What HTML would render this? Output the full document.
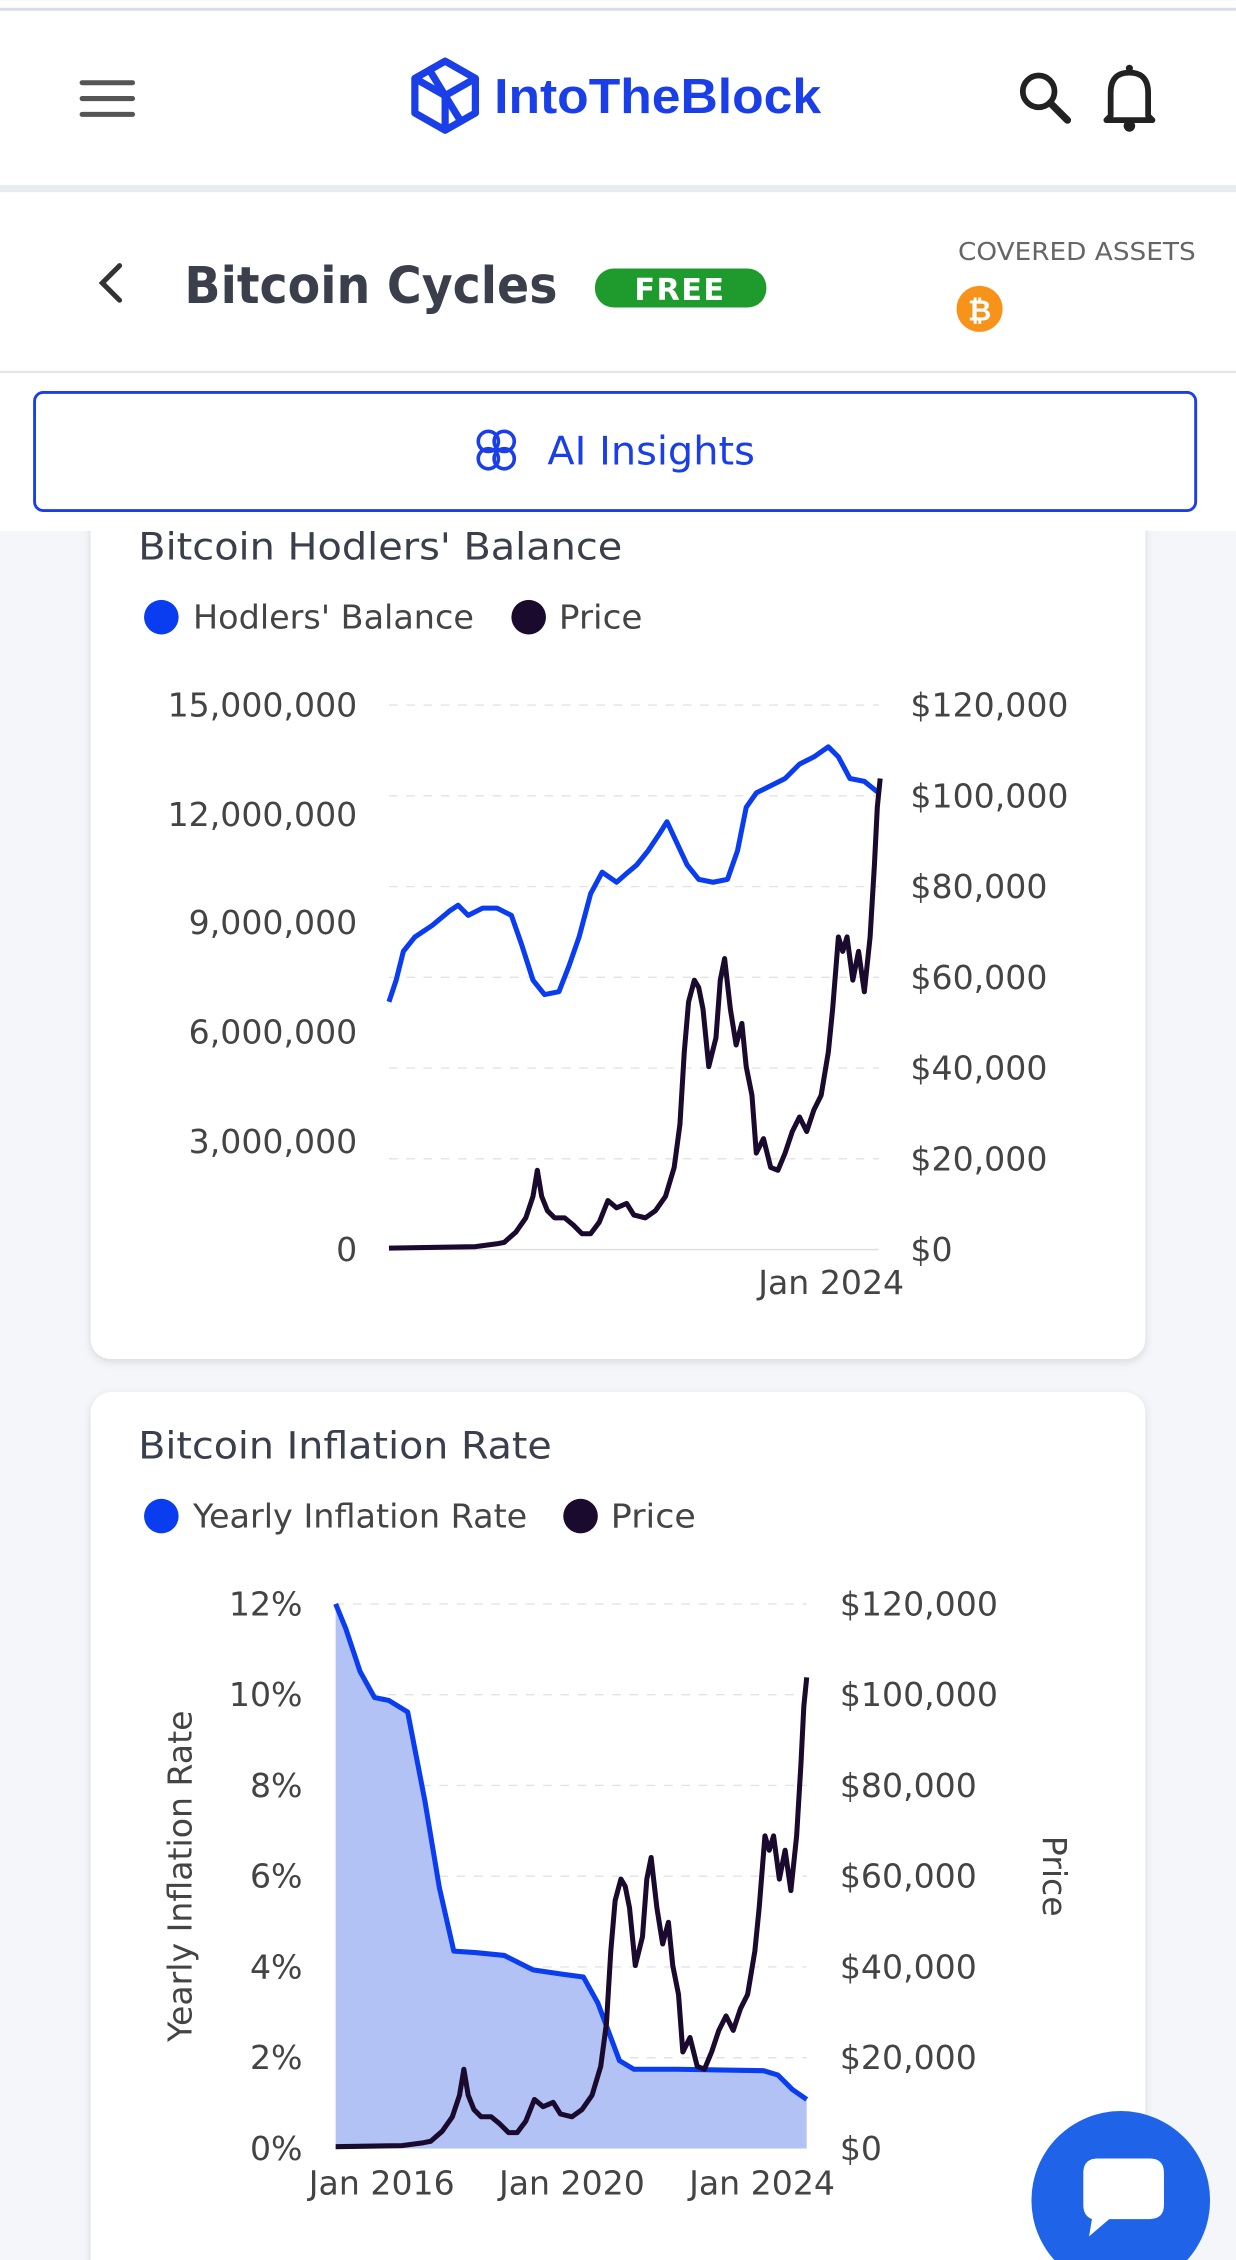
<!DOCTYPE html>
<html><head><meta charset="utf-8"><style>
html,body{margin:0;padding:0;background:#f4f6f9;}
svg{display:block;}
text{font-family:"DejaVu Sans",sans-serif;}
</style></head><body>
<svg width="1236" height="2260" viewBox="0 0 858 1568" xmlns="http://www.w3.org/2000/svg">
<defs>
<filter id="sh" x="-5%" y="-5%" width="110%" height="110%"><feDropShadow dx="0" dy="2" stdDeviation="3" flood-color="#000" flood-opacity="0.12"/></filter>
<clipPath id="c2"><rect x="233" y="1000" width="340" height="500"/></clipPath>
</defs>
<rect width="858" height="1568" fill="#f4f6f9"/>
<!-- header -->
<rect x="0" y="0" width="858" height="128" fill="#fff"/>
<rect x="0" y="5" width="858" height="2" fill="#d6dde8"/>
<g stroke="#555" stroke-width="3.5" stroke-linecap="round"><line x1="57" y1="57" x2="92" y2="57"/><line x1="57" y1="68" x2="92" y2="68"/><line x1="57" y1="79" x2="92" y2="79"/></g>
<g fill="none" stroke="#1a3ee8" stroke-width="5" stroke-linejoin="round">
<polygon points="309,42 330,54 330,78 309,90 288,78 288,54"/>
<polyline points="288,54 309,66 330,54"/><line x1="309" y1="66" x2="309" y2="90"/><line x1="298" y1="48" x2="320" y2="84"/>
</g>
<text x="343" y="78" font-size="34" font-weight="bold" fill="#1a3ee8" textLength="227" lengthAdjust="spacingAndGlyphs" style="font-family:'Liberation Sans',sans-serif">IntoTheBlock</text>
<circle cx="721" cy="63" r="11" fill="none" stroke="#222" stroke-width="4"/><line x1="729" y1="71" x2="741" y2="83" stroke="#222" stroke-width="5" stroke-linecap="round"/>
<path d="M771 80 L771 64 Q771 50 784 50 Q797 50 797 64 L797 80 L800 83 L768 83 Z" fill="none" stroke="#222" stroke-width="4" stroke-linejoin="round"/>
<circle cx="784" cy="87" r="4" fill="#222"/><circle cx="784" cy="47" r="2.5" fill="#222"/>
<rect x="0" y="128" width="858" height="5" fill="#e8ecf1"/>
<rect x="0" y="133" width="858" height="235" fill="#fff"/>
<polyline points="83,184 71,196 83,208" fill="none" stroke="#333" stroke-width="3.5" stroke-linecap="round"/>
<text x="128" y="210" font-size="35" font-weight="bold" fill="#3a3f4b" textLength="259" lengthAdjust="spacingAndGlyphs">Bitcoin Cycles</text>
<rect x="413" y="186" width="119" height="27" rx="13" fill="#1f9a2c"/>
<text x="472" y="208" font-size="21" font-weight="bold" fill="#fff" text-anchor="middle" letter-spacing="1">FREE</text>
<text x="665" y="180" font-size="17" fill="#666" textLength="165" lengthAdjust="spacingAndGlyphs">COVERED ASSETS</text>
<circle cx="680" cy="214" r="16" fill="#f7931a"/><text x="680" y="222" font-size="20" font-weight="bold" fill="#fff" text-anchor="middle">₿</text>
<!-- card 1 -->
<rect x="63" y="340" width="732" height="603" rx="14" fill="#fff" filter="url(#sh)"/>
<rect x="0" y="258" width="858" height="110" fill="#fff"/>
<rect x="0" y="257" width="858" height="1.5" fill="#e3e6ea"/>
<rect x="24" y="272" width="806" height="82" rx="6" fill="#fff" stroke="#1a3ee8" stroke-width="2"/>
<g fill="none" stroke="#1a3ee8" stroke-width="2.5"><circle cx="339" cy="306" r="7"/><circle cx="350" cy="306" r="7"/><circle cx="339" cy="318" r="7"/><circle cx="350" cy="318" r="7"/></g>
<text x="380" y="322" font-size="27" fill="#1a3ee8" textLength="144" lengthAdjust="spacingAndGlyphs">AI Insights</text>
<text x="96" y="388" font-size="26" fill="#3a3f4b" textLength="336" lengthAdjust="spacingAndGlyphs">Bitcoin Hodlers' Balance</text>
<circle cx="112" cy="428" r="12" fill="#0a3cf0"/><text x="134" y="436" font-size="23" fill="#444" textLength="195" lengthAdjust="spacingAndGlyphs">Hodlers' Balance</text>
<circle cx="367" cy="428" r="12" fill="#1a0a2e"/><text x="388" y="436" font-size="23" fill="#444" textLength="58" lengthAdjust="spacingAndGlyphs">Price</text>
<g stroke="#e3e3e3" stroke-dasharray="6,6"><line x1="270" y1="489" x2="610" y2="489"/><line x1="270" y1="552" x2="610" y2="552"/><line x1="270" y1="615" x2="610" y2="615"/><line x1="270" y1="678" x2="610" y2="678"/><line x1="270" y1="741" x2="610" y2="741"/><line x1="270" y1="804" x2="610" y2="804"/></g>
<line x1="270" y1="867" x2="610" y2="867" stroke="#ddd"/>
<g font-size="23" fill="#444" text-anchor="end"><text x="248" y="497">15,000,000</text><text x="248" y="573">12,000,000</text><text x="248" y="648">9,000,000</text><text x="248" y="724">6,000,000</text><text x="248" y="800">3,000,000</text><text x="248" y="875">0</text></g>
<g font-size="23" fill="#444"><text x="632" y="497">$120,000</text><text x="632" y="560">$100,000</text><text x="632" y="623">$80,000</text><text x="632" y="686">$60,000</text><text x="632" y="749">$40,000</text><text x="632" y="812">$20,000</text><text x="632" y="875">$0</text></g>
<text x="577" y="898" font-size="23" fill="#444" text-anchor="middle">Jan 2024</text>
<polyline fill="none" stroke="#0a3cf0" stroke-width="3.5" stroke-linejoin="round" points="270,695 275,680 280,660 288,650 300,642 312,632 318,628 325,635 335,630 345,630 355,635 362,655 370,680 378,690 388,688 395,670 402,650 410,620 418,605 428,612 436,605 442,600 450,590 458,578 463,570 470,585 477,600 485,610 495,612 505,610 512,590 518,560 525,550 535,545 545,540 555,530 565,525 575,518 582,525 590,540 600,542 610,550"/>
<g id="price"><polyline fill="none" stroke="#1a0a2e" stroke-width="3.5" stroke-linejoin="round" points="270,866 330,865 345,863 350,862 358,855 365,845 370,830 373,812 376,830 380,840 385,845 392,845 398,850 404,856 410,856 416,848 422,833 428,838 435,835 440,843 448,845 455,840 462,830 468,810 472,780 475,730 478,695 482,680 485,685 488,700 492,740 497,720 500,680 503,665 507,700 511,725 515,710 518,740 522,760 525,800 530,790 535,810 540,812 545,800 550,785 555,775 560,785 565,770 570,760 575,730 578,700 582,650 585,660 588,650 592,680 596,660 600,688 604,650 607,600 609,560 611,540"/></g>
<!-- card 2 -->
<rect x="63" y="966" width="732" height="640" rx="14" fill="#fff" filter="url(#sh)"/>
<text x="96" y="1012" font-size="26" fill="#3a3f4b" textLength="287" lengthAdjust="spacingAndGlyphs">Bitcoin Inflation Rate</text>
<circle cx="112" cy="1052" r="12" fill="#0a3cf0"/><text x="134" y="1060" font-size="23" fill="#444" textLength="232" lengthAdjust="spacingAndGlyphs">Yearly Inflation Rate</text>
<circle cx="403" cy="1052" r="12" fill="#1a0a2e"/><text x="424" y="1060" font-size="23" fill="#444" textLength="59" lengthAdjust="spacingAndGlyphs">Price</text>
<g stroke="#e3e3e3" stroke-dasharray="6,6"><line x1="233" y1="1113" x2="560" y2="1113"/><line x1="233" y1="1176" x2="560" y2="1176"/><line x1="233" y1="1239" x2="560" y2="1239"/><line x1="233" y1="1302" x2="560" y2="1302"/><line x1="233" y1="1365" x2="560" y2="1365"/><line x1="233" y1="1428" x2="560" y2="1428"/></g>
<g font-size="23" fill="#444" text-anchor="end"><text x="210" y="1121">12%</text><text x="210" y="1184">10%</text><text x="210" y="1247">8%</text><text x="210" y="1310">6%</text><text x="210" y="1373">4%</text><text x="210" y="1436">2%</text><text x="210" y="1499">0%</text></g>
<g font-size="23" fill="#444"><text x="583" y="1121">$120,000</text><text x="583" y="1184">$100,000</text><text x="583" y="1247">$80,000</text><text x="583" y="1310">$60,000</text><text x="583" y="1373">$40,000</text><text x="583" y="1436">$20,000</text><text x="583" y="1499">$0</text></g>
<text transform="translate(133,1302) rotate(-90)" font-size="23" fill="#444" text-anchor="middle">Yearly Inflation Rate</text>
<text transform="translate(724,1302) rotate(90)" font-size="23" fill="#444" text-anchor="middle">Price</text>
<g font-size="23" fill="#444" text-anchor="middle"><text x="265" y="1523">Jan 2016</text><text x="397" y="1523">Jan 2020</text><text x="529" y="1523">Jan 2024</text></g>
<polygon fill="#b3c2f5" points="233,1491 233,1113 240,1130 250,1160 260,1178 270,1180 283,1188 295,1250 305,1310 315,1354 330,1355 350,1357 370,1367 390,1370 405,1372 415,1390 430,1430 440,1436 470,1436 530,1437 540,1440 550,1450 560,1457 560,1491"/>
<polyline fill="none" stroke="#0a3cf0" stroke-width="3.5" stroke-linejoin="round" points="233,1113 240,1130 250,1160 260,1178 270,1180 283,1188 295,1250 305,1310 315,1354 330,1355 350,1357 370,1367 390,1370 405,1372 415,1390 430,1430 440,1436 470,1436 530,1437 540,1440 550,1450 560,1457"/>
<g clip-path="url(#c2)"><use href="#price" transform="translate(-51,624)"/></g>
<!-- chat bubble -->
<circle cx="778" cy="1527" r="62" fill="#1f63e8"/>
<path d="M752 1508 Q752 1498 762 1498 L798 1498 Q808 1498 808 1508 L808 1530 Q808 1540 798 1540 L770 1540 L756 1552 L758 1540 Q752 1538 752 1530 Z" fill="#fff"/>
</svg>
</body></html>
